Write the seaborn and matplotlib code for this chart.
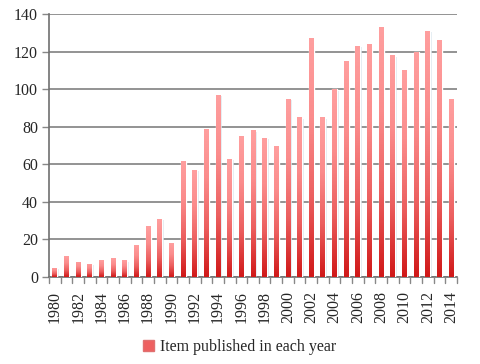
import numpy as np
import pandas as pd
import matplotlib
matplotlib.use("Agg")
import matplotlib.pyplot as plt
import seaborn as sns
from matplotlib.colors import LinearSegmentedColormap
from matplotlib.patches import Rectangle

years = list(range(1980, 2015))
counts = [5, 11, 8, 7, 9, 10, 9, 17, 27, 31, 18, 62, 57, 79, 97, 63, 75, 78, 74, 70,
          95, 85, 127, 85, 100, 115, 123, 124, 133, 118, 110, 120, 131, 126, 95]
series_name = "Item published in each year"
yticks = [0, 20, 40, 60, 80, 100, 120, 140]

df = pd.DataFrame({"year": [str(y) for y in years], "count": counts})

sns.set_style("white")
plt.rcParams['font.family'] = ['Liberation Serif', 'DejaVu Serif']

fig = plt.figure(figsize=(4.8, 3.64), dpi=100)
ax = fig.add_axes([49/480, 1-277/364, (457-49)/480, (277-14)/364])

sns.barplot(data=df, x="year", y="count", ax=ax, color="#e04040", width=0.42,
            saturation=1, errorbar=None, zorder=3)

cmap = LinearSegmentedColormap.from_list("g", ["#d01818", "#ec5f5f", "#fb8c8c", "#ff9f9f"])
grad = np.linspace(0, 1, 256).reshape(-1, 1)
for p in list(ax.patches):
    x0, y0 = p.get_x(), p.get_y()
    w, h = p.get_width(), p.get_height()
    # soft shadow to the right
    sh = Rectangle((x0 + w*0.3, y0), w*1.0, max(h - 0.8, 0), facecolor="#d3e2ec",
                   edgecolor="none", alpha=0.7, zorder=2)
    ax.add_patch(sh)
    im = ax.imshow(grad, cmap=cmap, aspect="auto", origin="lower",
                   extent=(x0, x0 + w, y0, y0 + h), zorder=3.5)
    im.set_clip_path(p)
    p.set_facecolor("none")

ax.set_xlim(-0.5, len(years) - 0.5)
ax.set_ylim(0, 140)
ax.set_yticks(yticks)
ax.set_yticklabels([str(t) for t in yticks], fontsize=11.5)
ax.set_xticks(range(len(years)))
ax.set_xticklabels([str(y) if (y - 1980) % 2 == 0 else "" for y in years],
                   rotation=90, fontsize=11.5)
ax.tick_params(axis="x", length=0, pad=10)
ax.tick_params(axis="y", length=5, width=1, color="#888888", pad=3, direction="out", left=True)
for b in np.arange(-0.5, len(years), 1.0):
    ax.plot([b, b], [0, -3], color="#888888", lw=1, clip_on=False, zorder=4)
ax.set_xlabel("")
ax.set_ylabel("")
ax.grid(axis="y", color="#808080", lw=1.2, zorder=0)
ax.set_axisbelow(True)
for s in ["top", "right"]:
    ax.spines[s].set_visible(False)
ax.spines["left"].set_color("#707070")
ax.spines["bottom"].set_color("#707070")
ax.spines["left"].set_linewidth(1.2)
ax.spines["bottom"].set_linewidth(1.2)

handle = Rectangle((0, 0), 1, 1, facecolor="#ee6060", edgecolor="#e07070")
fig.legend([handle], [series_name], loc="center", bbox_to_anchor=(0.5, 0.047),
           frameon=False, fontsize=11.5, handlelength=0.65, handleheight=0.7,
           handletextpad=0.4)

fig.savefig("out.png", dpi=100)
